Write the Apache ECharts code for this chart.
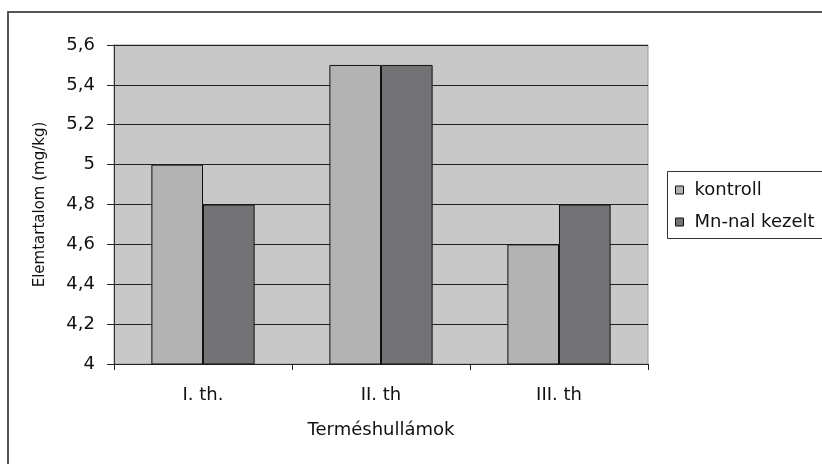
<!DOCTYPE html>
<html>
<head>
<meta charset="utf-8">
<script src="https://cdn.jsdelivr.net/npm/echarts@6/dist/echarts.min.js"></script>
<style>html,body{margin:0;padding:0;background:#fff;}#c{width:822px;height:464px;}</style>
</head>
<body>
<div id="c"></div>
<script>
var categories = ['I. th.', 'II. th', 'III. th'];
var kontroll = [5.0, 5.5, 4.6];
var mnKezelt = [4.8, 5.5, 4.8];
var seriesNames = ['kontroll', 'Mn-nal kezelt'];

var chart = echarts.init(document.getElementById('c'), null, {renderer: 'canvas'});
var font = 'DejaVu Sans, Liberation Sans, Arial, sans-serif';
chart.setOption({
  animation: false,
  backgroundColor: '#ffffff',
  textStyle: {fontFamily: font},
  graphic: [
    {type: 'rect', shape: {x: 8, y: 12, width: 830, height: 470}, style: {fill: 'none', stroke: '#555', lineWidth: 2}, silent: true, z: -1},
    {type: 'rect', shape: {x: 667.5, y: 171.5, width: 170, height: 67}, style: {fill: '#fff', stroke: '#333', lineWidth: 1}, silent: true, z: 0}
  ],
  legend: {
    orient: 'vertical',
    left: 675,
    top: 181,
    padding: 0,
    itemGap: 14,
    itemWidth: 8,
    itemHeight: 8,
    icon: 'rect',
    z: 10,
    itemStyle: {borderColor: '#111', borderWidth: 1},
    textStyle: {fontFamily: font, fontSize: 18, color: '#111', padding: [0, 0, 0, 6]},
    data: seriesNames
  },
  grid: {left: 114, top: 45, right: 174, bottom: 100, show: true, backgroundColor: '#c8c8c8', borderColor: '#999', borderWidth: 1},
  xAxis: {
    type: 'category',
    data: categories,
    name: 'Terméshullámok',
    nameLocation: 'middle',
    nameGap: 57,
    nameTextStyle: {fontFamily: font, fontSize: 18, color: '#111'},
    axisLine: {lineStyle: {color: '#222', width: 1}},
    axisTick: {show: true, length: 6, lineStyle: {color: '#222'}},
    axisLabel: {fontFamily: font, fontSize: 18, color: '#111', margin: 22}
  },
  yAxis: {
    type: 'value',
    min: 4,
    max: 5.6,
    interval: 0.2,
    name: 'Elemtartalom (mg/kg)',
    nameLocation: 'middle',
    nameGap: 66,
    nameRotate: 90,
    nameTextStyle: {fontFamily: font, fontSize: 15, color: '#111'},
    axisLine: {show: true, lineStyle: {color: '#333'}},
    axisTick: {show: true, length: 7, lineStyle: {color: '#222'}},
    axisLabel: {fontFamily: font, fontSize: 18, color: '#111', margin: 19,
      formatter: function (v) { return String(Math.round(v * 10) / 10).replace('.', ','); }},
    splitLine: {lineStyle: {color: '#222', width: 1}}
  },
  series: [
    {name: seriesNames[0], type: 'bar', data: kontroll, barGap: '0%', barCategoryGap: '42%',
      itemStyle: {color: '#b3b3b3', borderColor: '#111', borderWidth: 1}},
    {name: seriesNames[1], type: 'bar', data: mnKezelt, barGap: '0%', barCategoryGap: '42%',
      itemStyle: {color: '#737376', borderColor: '#111', borderWidth: 1}}
  ]
});
</script>
</body>
</html>
